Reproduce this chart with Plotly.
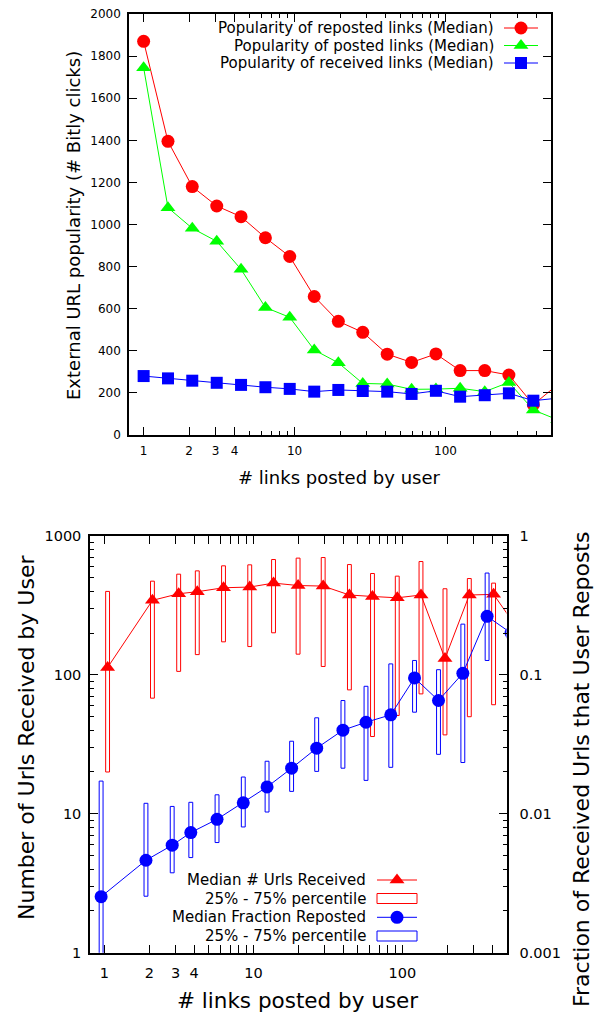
import numpy as np
import plotly.graph_objects as go

# ---------------- data ----------------
# top chart: x bins (# links posted by user)
top_bins = [1, 1.45, 2.1, 3.05, 4.42, 6.41, 9.29, 13.5, 19.5, 28.3, 41.1, 59.6, 86.4, 125, 182, 263, 382, 554]
pop_reposted = [1870, 1395, 1180, 1088, 1037, 937, 848, 658, 540, 488, 384, 345, 385, 306, 306, 285, 144, 240]
pop_posted = [1745, 1080, 982, 920, 787, 606, 559, 404, 343, 245, 242, 217, 218, 222, 206, 250, 119, 72]
pop_received = [280, 269, 258, 248, 238, 227, 219, 206, 214, 209, 206, 195, 210, 182, 189, 198, 163, 175]

# bottom chart
bot_bins = [1, 2, 3, 4, 6, 9, 13, 19, 28, 42, 60, 88, 127, 184, 268, 390, 565]
urls_med = [113, 344, 384, 397, 424, 429, 458, 440, 436, 376, 367, 359, 376, 131, 376, 380, 215]
urls_q25 = [20, 68, 106, 140, 173, 160, 201, 141, 115, 78, 36, 51, 73, 37, 50, 61, 60]
urls_q75 = [399, 473, 531, 561, 610, 620, 677, 693, 700, 623, 537, 514, 655, 417, 494, 458, 450]
frac_med = [0.00253, 0.00463, 0.00594, 0.00733, 0.00913, 0.0120, 0.0156, 0.0213, 0.0297, 0.0400,
            0.0456, 0.0516, 0.0951, 0.0654, 0.1027, 0.264, 0.20]
frac_q25 = [0.0008, 0.00255, 0.00376, 0.00484, 0.00621, 0.00804, 0.0103, 0.0145, 0.0202, 0.0213,
            0.0174, 0.0216, 0.0539, 0.0268, 0.0234, 0.127, 0.1]
frac_q75 = [0.0172, 0.0119, 0.0113, 0.0121, 0.0137, 0.0184, 0.0239, 0.0333, 0.0491, 0.0654,
            0.0828, 0.120, 0.127, 0.109, 0.232, 0.541, 0.4]

x_ticks = [1, 2, 3, 4, 10, 100]
x_minor = [5, 6, 7, 8, 9, 20, 30, 40, 50, 60, 70, 80, 90, 200, 300, 400]

# ---------------- style ----------------
W, H = 594, 1013
FONT = "DejaVu Sans"
RED, GREEN, BLUE = "#ff0000", "#00ff00", "#0000ff"
RED_SHIFT, BLUE_SHIFT = 1.05, 0.95   # horizontal offsets of the two series
BOX_HALF = 0.013                        # half width of boxes, decades

def dom_x(a, b):
    return [a / W, b / W]

def dom_y(top, bottom):
    return [1 - bottom / H, 1 - top / H]

fig = go.Figure()

# ---------------- top chart ----------------
fig.add_trace(go.Scatter(x=top_bins, y=pop_reposted, mode="lines+markers",
                         line=dict(color=RED, width=1),
                         marker=dict(symbol="circle", size=13, color=RED),
                         xaxis="x", yaxis="y"))
fig.add_trace(go.Scatter(x=top_bins, y=pop_posted, mode="lines+markers",
                         line=dict(color=GREEN, width=1),
                         marker=dict(symbol="triangle-up", size=13, color=GREEN),
                         xaxis="x", yaxis="y"))
fig.add_trace(go.Scatter(x=top_bins, y=pop_received, mode="lines+markers",
                         line=dict(color=BLUE, width=1),
                         marker=dict(symbol="square", size=12, color=BLUE),
                         xaxis="x", yaxis="y"))

# ---------------- bottom chart ----------------
def box_path(xs, lo, hi):
    px, py = [], []
    f = 10 ** BOX_HALF
    for x, a, b in zip(xs, lo, hi):
        xl, xr = x / f, x * f
        px += [xl, xr, xr, xl, xl, None]
        py += [a, a, b, b, a, None]
    return px, py

red_x = list(np.array(bot_bins) * RED_SHIFT)
blue_x = list(np.array(bot_bins) * BLUE_SHIFT)

fig.add_trace(go.Scatter(x=red_x, y=urls_med, mode="lines+markers",
                         line=dict(color=RED, width=1),
                         marker=dict(symbol="triangle-up", size=13, color=RED),
                         xaxis="x2", yaxis="y2"))
bx, by = box_path(red_x, urls_q25, urls_q75)
fig.add_trace(go.Scatter(x=bx, y=by, mode="lines", line=dict(color=RED, width=1),
                         xaxis="x2", yaxis="y2"))
fig.add_trace(go.Scatter(x=blue_x, y=frac_med, mode="lines+markers",
                         line=dict(color=BLUE, width=1),
                         marker=dict(symbol="circle", size=13, color=BLUE),
                         xaxis="x2", yaxis="y3"))
bx, by = box_path(blue_x, frac_q25, frac_q75)
fig.add_trace(go.Scatter(x=bx, y=by, mode="lines", line=dict(color=BLUE, width=1),
                         xaxis="x2", yaxis="y3"))

# ---------------- legends (drawn on a pixel overlay) ----------------
def leg_line(x0, x1, y, color, symbol, size):
    fig.add_trace(go.Scatter(x=[x0, x1], y=[y, y], mode="lines",
                             line=dict(color=color, width=1), xaxis="x3", yaxis="y4"))
    fig.add_trace(go.Scatter(x=[(x0 + x1) / 2], y=[y], mode="markers",
                             marker=dict(symbol=symbol, size=size, color=color),
                             xaxis="x3", yaxis="y4"))

annotations = []
def text(x, y, s, size, anchor="right", angle=0):
    annotations.append(dict(x=x, y=y, xref="x3", yref="y4", text=s, showarrow=False,
                            xanchor=anchor, yanchor="middle", textangle=angle,
                            borderpad=0,
                            font=dict(family=FONT, size=size, color="black")))

top_leg = [("Popularity of reposted links (Median)", RED, "circle", 13, 28),
           ("Popularity of posted links (Median)", GREEN, "triangle-up", 13, 45.5),
           ("Popularity of received links (Median)", BLUE, "square", 12, 63)]
for s, c, sym, sz, y in top_leg:
    leg_line(504, 538, y, c, sym, sz)
    text(495, y, s, 15)

shapes = []
bot_leg = [("Median # Urls Received", RED, "line", 880),
           ("25% - 75% percentile", RED, "box", 898.5),
           ("Median Fraction Reposted", BLUE, "line", 917.3),
           ("25% - 75% percentile", BLUE, "box", 936)]
for s, c, kind, y in bot_leg:
    if kind == "line":
        leg_line(377, 417, y, c, "triangle-up" if c == RED else "circle", 13)
    else:
        shapes.append(dict(type="rect", xref="x3", yref="y4", x0=377, x1=417,
                           y0=y - 5, y1=y + 5, line=dict(color=c, width=1)))
    text(367, y, s, 15)

# axis titles
text(73, 226, "External URL popularity (# Bitly clicks)", 18, anchor="center", angle=-90)
text(339, 477, "# links posted by user", 18, anchor="center")
text(26, 738, "Number of Urls Received by User", 22, anchor="center", angle=-90)
text(581, 770, "Fraction of Received Urls that User Reposts", 22, anchor="center", angle=-90)
text(297, 1000, "# links posted by user", 21.5, anchor="center")

# ---------------- axes ----------------
common = dict(showline=True, linecolor="black", linewidth=1.5, ticks="inside",
              tickcolor="black", tickwidth=1, ticklen=8, showgrid=False, zeroline=False,
              mirror="allticks")
xlog = dict(type="log", range=[np.log10(0.8), np.log10(500)], tickmode="array",
            tickvals=x_ticks, ticktext=[str(v) for v in x_ticks],
            minor=dict(tickmode="array", tickvals=x_minor, ticks="inside", ticklen=4,
                       tickcolor="black", showgrid=False))

fig.update_layout(
    width=W, height=H, template="none",
    paper_bgcolor="white", plot_bgcolor="rgba(0,0,0,0)",
    margin=dict(l=0, r=0, t=0, b=0), showlegend=False,
    font=dict(family=FONT, color="black"),
    xaxis=dict(domain=dom_x(129, 551), anchor="y", **common, **xlog,
               tickfont=dict(size=12), ticklabelstandoff=4),
    yaxis=dict(domain=dom_y(14, 435), anchor="x", range=[0, 2000], dtick=200,
               tickfont=dict(size=12), ticklabelstandoff=4, **common),
    xaxis2=dict(domain=dom_x(90, 506.5), anchor="y2", **common, **xlog,
                tickfont=dict(size=14.5), ticklabelstandoff=6),
    yaxis2=dict(domain=dom_y(536, 952.7), anchor="x2", type="log", range=[0, 3],
                tickmode="array", tickvals=[1, 10, 100, 1000],
                ticktext=["1", "10", "100", "1000"], tickfont=dict(size=14.5),
                ticklabelstandoff=4,
                minor=dict(tickmode="array",
                           tickvals=[2, 3, 4, 5, 6, 7, 8, 9, 20, 30, 40, 50, 60, 70, 80, 90,
                                     200, 300, 400, 500, 600, 700, 800, 900],
                           ticks="inside", ticklen=4, tickcolor="black", showgrid=False),
                **common),
    yaxis3=dict(overlaying="y2", anchor="x2", side="right", type="log", range=[-3, 0],
                tickmode="array", tickvals=[0.001, 0.01, 0.1, 1],
                ticktext=["0.001", "0.01", "0.1", "1"], ticks="", showline=False,
                showgrid=False, zeroline=False, tickfont=dict(size=14.5),
                ticklabelstandoff=12),
    xaxis3=dict(domain=[0, 1], anchor="y4", range=[0, W], visible=False, fixedrange=True),
    yaxis4=dict(domain=[0, 1], anchor="x3", range=[H, 0], visible=False, fixedrange=True),
    annotations=annotations, shapes=shapes,
)

fig.write_html("out.html")
